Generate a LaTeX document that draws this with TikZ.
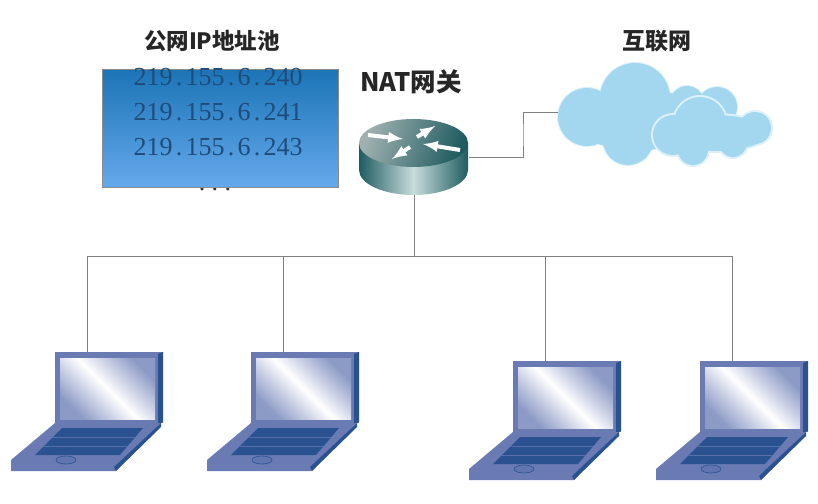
\documentclass[tikz,border=0pt]{standalone}
\usepackage{fontspec}
\newfontfamily\cjk{Noto Sans CJK SC}
\newfontfamily\ipfont{Liberation Serif}
\usepackage{xcolor}
\usetikzlibrary{arrows,calc,positioning}
\definecolor{poolTop}{HTML}{1B74B6}
\definecolor{poolBottom}{HTML}{65A9EC}
\definecolor{ipText}{HTML}{1F4C7A}
\definecolor{cloudBlue}{HTML}{A3D7F0}
\definecolor{cloudEdge}{HTML}{DDF1FA}
\definecolor{lapFrame}{HTML}{6A7BB4}
\definecolor{lapDark}{HTML}{2A5290}
\definecolor{lapScreen}{HTML}{8C9AC6}
\definecolor{routerDark}{HTML}{1F5C60}
\definecolor{routerLight}{HTML}{C8DCDC}
\newcommand{\ipdot}{\makebox[13pt]{.}}
\tikzset{
	wire/.style = {draw = black!50, line width = 0.8pt},
	title/.style = {font = \cjk\bfseries\fontsize{22.5}{24}\selectfont, text = black!85, inner sep = 0pt},
	ipline/.style = {font = \ipfont\fontsize{26}{28}\selectfont, text = ipText, inner sep = 0pt},
	rarrow/.style = {draw = white, line width = 4pt, -latex},
	pics/laptop/.style = {code = {
		\fill[lapFrame] (-32,0) rectangle (76,71);
		\fill[lapDark] (71,2) -- (76,0) -- (76,70) -- (71,72) -- cycle;
		\shade[left color = lapScreen, right color = lapScreen, middle color = white, shading angle = 135] (-27,6) rectangle (68,67);
		\fill[lapFrame] (-32,71) -- (74,71) -- (29,119) -- (-76,119) -- (-76,108) -- cycle;
		\fill[lapDark] (74,71) -- (74,75) -- (29,119) -- (27,115) -- cycle;
		\fill[lapDark] (-52,103) -- (33,103) -- (56,76) -- (-25,76) -- cycle;
		\draw[lapFrame!70!lapDark, line width = 0.6pt] (-34,85) -- (48,85);
		\draw[lapFrame!70!lapDark, line width = 0.6pt] (-43,94) -- (41,94);
		\draw[lapDark, fill = lapFrame!85!lapDark, line width = 0.6pt] (-21,108) ellipse [x radius = 10, y radius = 4];
		\coordinate (-top) at (0,0);
	}}
}

\begin{document}
\begin{tikzpicture}[x=1pt, y=-1pt]
	\useasboundingbox (0,0) rectangle (818,503);

	% address pool
	\node[ipline, anchor = base, text = black!80] (dots) at (215,190) {\ipdot\ipdot\ipdot};
	\path[draw = black!45, line width = 0.8pt, top color = poolTop, bottom color = poolBottom] (102,69) rectangle (338,187);
	\node[title] (pooltitle) at (212,41) {公网IP地址池};
	\node[ipline] (ip1) at (218,77) {219\ipdot 155\ipdot 6\ipdot 240};
	\node[ipline] (ip2) at (218,112) {219\ipdot 155\ipdot 6\ipdot 241};
	\node[ipline] (ip3) at (218,147) {219\ipdot 155\ipdot 6\ipdot 243};

	% router
	\node[title, font = \cjk\bfseries\fontsize{25.5}{27}\selectfont] (nattitle) at (411,82) {NAT网关};
	\shade[left color = routerDark, right color = routerDark, middle color = routerLight] (359,143) -- (359,170) arc [start angle = 180, end angle = 0, x radius = 54.5, y radius = 25] -- (468,143) -- cycle;
	\shade[left color = routerLight!80!black, right color = routerDark, shading angle = 70] (413.5,143) ellipse [x radius = 54.5, y radius = 24];
	\draw[rarrow] (368,135) -- (403,139);
	\draw[rarrow] (417,137) -- (435,126);
	\draw[rarrow] (460,150) -- (423,144);
	\draw[rarrow] (410,147) -- (392,159);
	\node[minimum width = 109pt, minimum height = 76pt, inner sep = 0pt] (router) at (414,157) {};

	% cloud
	\node[title, font = \cjk\bfseries\fontsize{23}{25}\selectfont] (nettitle) at (657,41) {互联网};
	\foreach \cx/\cy/\rad in {635/98/36, 628/140/26, 587/117/30, 717/107/21, 687/103/18}
		\fill[cloudEdge] (\cx,\cy) circle [radius = \rad];
	\fill[cloudBlue] (640,120) ellipse [x radius = 70, y radius = 30];
	\fill[cloudBlue] (695,115) ellipse [x radius = 40, y radius = 18];
	\foreach \cx/\cy/\rad in {635/98/35, 628/140/25, 587/117/29, 717/107/20, 687/103/17}
		\fill[cloudBlue] (\cx,\cy) circle [radius = \rad];
	\foreach \cx/\cy/\rad in {700/123/28, 673/135/22, 755/128/18, 693/150/17, 733/143/16}
		\fill[cloudEdge] (\cx,\cy) circle [radius = \rad];
	\fill[cloudEdge] (714,133) ellipse [x radius = 56, y radius = 20];
	\fill[cloudBlue] (714,133) ellipse [x radius = 54, y radius = 18];
	\foreach \cx/\cy/\rad in {700/123/26, 673/135/20, 755/128/16, 693/150/15, 733/143/14}
		\fill[cloudBlue] (\cx,\cy) circle [radius = \rad];
	\node[minimum width = 214pt, minimum height = 102pt, inner sep = 0pt] (cloud) at (665,112) {};

	% hosts
	\pic (pc1) at (87,352) {laptop};
	\pic (pc2) at (283,352) {laptop};
	\pic (pc3) at (545,361) {laptop};
	\pic (pc4) at (732,361) {laptop};

	% links
	\coordinate (busleft) at (87,256);
	\coordinate (busright) at (733,256);
	\coordinate (elbow) at (523,135);
	\path[wire] (busleft) -- (busright);
	\path[wire] (router.south) -- (router.south |- busleft);
	\path[wire] (busleft) -- (pc1-top);
	\path[wire] (pc2-top |- busleft) -- (pc2-top);
	\path[wire] (pc3-top |- busleft) -- (pc3-top);
	\path[wire] (pc4-top |- busleft) -- (pc4-top);
	\path[wire] (router.east) -| (elbow) |- (cloud.west);
\end{tikzpicture}
\end{document}
